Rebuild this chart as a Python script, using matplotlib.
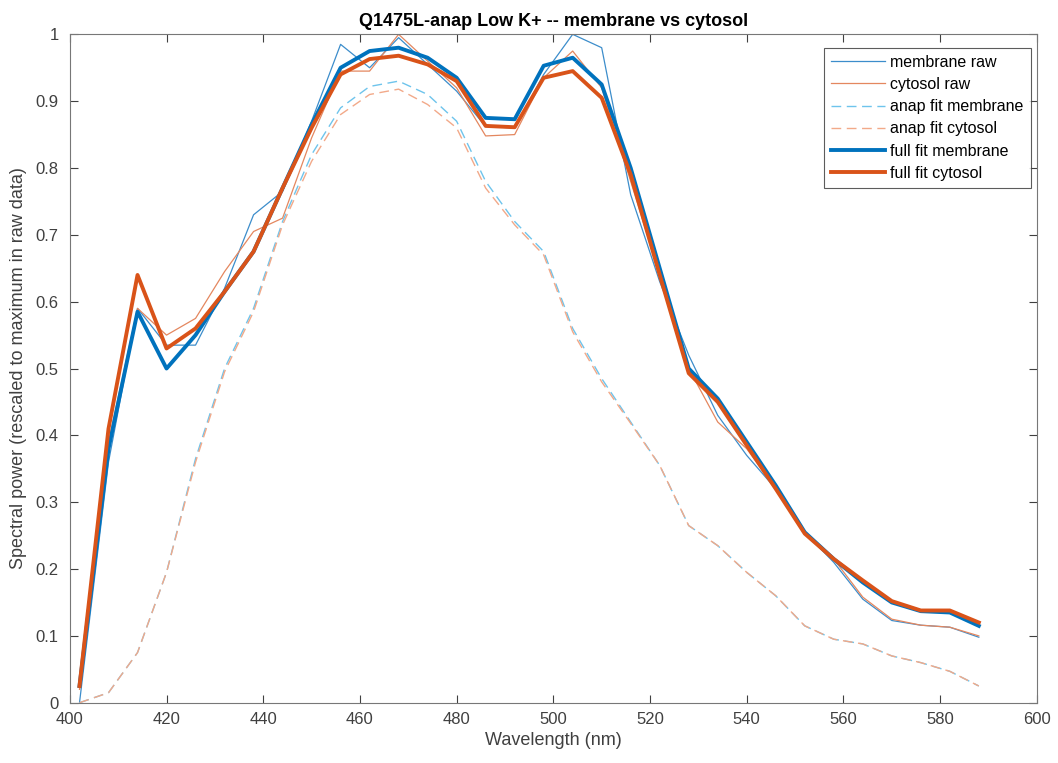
import numpy as np
import matplotlib
matplotlib.use("Agg")
import matplotlib.pyplot as plt
from matplotlib.ticker import MultipleLocator, FuncFormatter

wavelength = [402, 408, 414, 420, 426, 432, 438, 444, 450, 456, 462, 468, 474, 480, 486, 492,
              498, 504, 510, 516, 522, 528, 534, 540, 546, 552, 558, 564, 570, 576, 582, 588]

membrane_raw = [0.00, 0.36, 0.59, 0.535, 0.535, 0.62, 0.73, 0.765, 0.87, 0.985, 0.95, 0.995,
                0.955, 0.915, 0.862, 0.86, 0.94, 1.00, 0.98, 0.76, 0.63, 0.52, 0.43, 0.37,
                0.32, 0.255, 0.21, 0.155, 0.123, 0.116, 0.113, 0.098]
cytosol_raw = [0.02, 0.39, 0.59, 0.55, 0.575, 0.645, 0.705, 0.725, 0.845, 0.945, 0.945, 1.00,
               0.96, 0.92, 0.848, 0.85, 0.935, 0.975, 0.92, 0.78, 0.64, 0.50, 0.42, 0.38,
               0.32, 0.255, 0.215, 0.158, 0.125, 0.116, 0.113, 0.10]
anap_membrane = [0.00, 0.015, 0.075, 0.195, 0.365, 0.50, 0.59, 0.72, 0.82, 0.89, 0.922, 0.93,
                 0.91, 0.87, 0.78, 0.72, 0.675, 0.56, 0.485, 0.42, 0.355, 0.265, 0.235, 0.195,
                 0.16, 0.115, 0.095, 0.088, 0.07, 0.06, 0.047, 0.025]
anap_cytosol = [0.00, 0.015, 0.075, 0.195, 0.36, 0.495, 0.585, 0.715, 0.81, 0.88, 0.91, 0.918,
                0.895, 0.86, 0.77, 0.715, 0.67, 0.555, 0.48, 0.418, 0.355, 0.265, 0.235, 0.195,
                0.16, 0.115, 0.095, 0.088, 0.07, 0.06, 0.047, 0.025]
full_membrane = [0.025, 0.38, 0.585, 0.50, 0.55, 0.615, 0.675, 0.77, 0.865, 0.95, 0.975, 0.98,
                 0.965, 0.935, 0.875, 0.873, 0.953, 0.965, 0.925, 0.80, 0.65, 0.50, 0.455, 0.39,
                 0.325, 0.255, 0.215, 0.18, 0.15, 0.137, 0.135, 0.115]
full_cytosol = [0.025, 0.41, 0.64, 0.53, 0.56, 0.615, 0.675, 0.77, 0.86, 0.94, 0.963, 0.968,
                0.955, 0.93, 0.863, 0.861, 0.935, 0.945, 0.905, 0.79, 0.64, 0.493, 0.45, 0.385,
                0.32, 0.253, 0.215, 0.183, 0.152, 0.138, 0.138, 0.12]

plt.rcParams["font.family"] = ["Liberation Sans", "DejaVu Sans"]

fig = plt.figure(figsize=(10.58, 7.63), dpi=100)
ax = fig.add_axes([0.066, 0.079, 0.914, 0.876])

ax.plot(wavelength, membrane_raw, color="#3C8DCB", lw=0.9, label="membrane raw")
ax.plot(wavelength, cytosol_raw, color="#E4875F", lw=0.9, label="cytosol raw")
ax.plot(wavelength, anap_membrane, color="#6EC4EC", lw=1.0, ls=(0, (7, 4)), label="anap fit membrane")
ax.plot(wavelength, anap_cytosol, color="#F2A989", lw=1.0, ls=(0, (7, 4)), label="anap fit cytosol")
ax.plot(wavelength, full_membrane, color="#0072BD", lw=2.8, label="full fit membrane")
ax.plot(wavelength, full_cytosol, color="#D95319", lw=2.8, label="full fit cytosol")

ax.set_xlim(400, 600)
ax.set_ylim(0, 1)
ax.xaxis.set_major_locator(MultipleLocator(20))
ax.yaxis.set_major_locator(MultipleLocator(0.1))
ax.yaxis.set_major_formatter(FuncFormatter(lambda v, p: "%g" % round(v, 1)))
ax.tick_params(direction="in", top=True, right=True, length=6, labelsize=12,
               colors="#404040", width=0.8)
ax.tick_params(axis="x", pad=7)
ax.tick_params(axis="y", pad=8)
for s in ax.spines.values():
    s.set_color("#777777")
    s.set_linewidth(0.8)

ax.set_xlabel("Wavelength (nm)", fontsize=13, color="#404040", labelpad=3)
ax.set_ylabel("Spectral power (rescaled to maximum in raw data)", fontsize=13, color="#404040",
              labelpad=6)
ax.set_title("Q1475L-anap Low K+ -- membrane vs cytosol", fontsize=13, fontweight="bold", pad=6)

leg = ax.legend(loc="upper right", fontsize=11.5, frameon=True, fancybox=False,
                handlelength=3.4, handletextpad=0.3, labelspacing=0.45,
                borderpad=0.45, bbox_to_anchor=(1.002, 0.992))
leg.get_frame().set_edgecolor("#333333")
leg.get_frame().set_linewidth(0.8)

fig.savefig("out.png", dpi=100)
